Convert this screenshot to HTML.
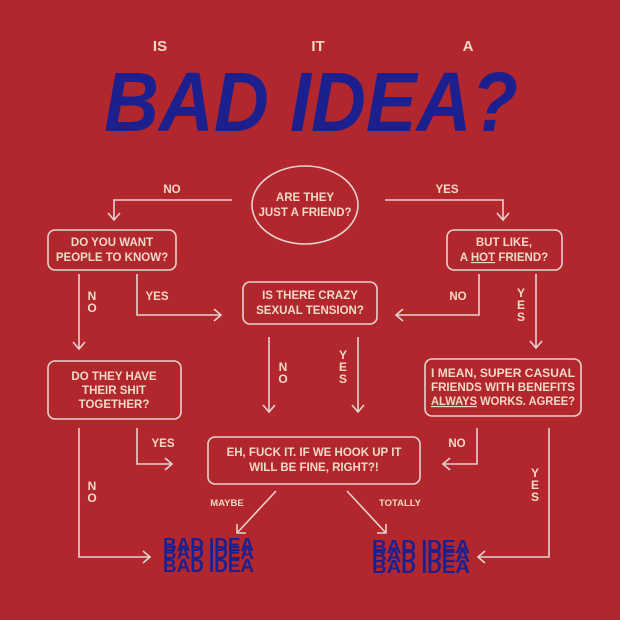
<!DOCTYPE html>
<html><head><meta charset="utf-8"><style>
html,body{margin:0;padding:0;background:#b1272d;}
svg{display:block}
text{font-family:"Liberation Sans",sans-serif;font-weight:bold;}
.u{text-decoration:underline;}
</style></head><body>
<svg width="620" height="620" viewBox="0 0 620 620" xmlns="http://www.w3.org/2000/svg">
<rect width="620" height="620" fill="#b1272d"/>
<g fill="#f2d9c6" font-size="15">
<text x="160" y="51" text-anchor="middle">IS</text>
<text x="318" y="51" text-anchor="middle">IT</text>
<text x="468" y="51" text-anchor="middle">A</text>
</g>
<text x="104" y="131" font-size="84" font-style="italic" fill="#1c1f8e" textLength="414" lengthAdjust="spacingAndGlyphs">BAD IDEA?</text>

<g fill="none" stroke="#e6d3cf" stroke-width="1.6">
<ellipse cx="305" cy="205" rx="53" ry="39"/>
<rect x="48" y="230" width="128" height="40" rx="7"/>
<rect x="447" y="230" width="115" height="40" rx="7"/>
<rect x="243" y="282" width="134" height="42" rx="7"/>
<rect x="48" y="361" width="133" height="58" rx="7"/>
<rect x="425" y="359" width="156" height="57" rx="7"/>
<rect x="208" y="437" width="212" height="47" rx="7"/>
<polyline points="232,200 114,200 114,220"/><polyline points="108,213 114,220 120,213"/>
<polyline points="385,200 503,200 503,220"/><polyline points="497,213 503,220 509,213"/>
<line x1="79" y1="274" x2="79" y2="349"/><polyline points="73,342 79,349 85,342"/>
<polyline points="137,274 137,315 221,315"/><polyline points="214,309 221,315 214,321"/>
<polyline points="479,274 479,315 396,315"/><polyline points="403,309 396,315 403,321"/>
<line x1="536" y1="274" x2="536" y2="348"/><polyline points="530,341 536,348 542,341"/>
<line x1="269" y1="337" x2="269" y2="412"/><polyline points="263,405 269,412 275,405"/>
<line x1="358" y1="337" x2="358" y2="412"/><polyline points="352,405 358,412 364,405"/>
<polyline points="137,428 137,464 172,464"/><polyline points="165,458 172,464 165,470"/>
<polyline points="477,428 477,464 443,464"/><polyline points="450,458 443,464 450,470"/>
<polyline points="79,428 79,557 150,557"/><polyline points="143,551 150,557 143,563"/>
<polyline points="549,428 549,557 478,557"/><polyline points="485,551 478,557 485,563"/>
<line x1="276" y1="491" x2="237" y2="533"/><polyline points="237,524 237,533 246,533"/>
<line x1="347" y1="491" x2="386" y2="533"/><polyline points="377,533 386,533 386,524"/>
</g>

<g fill="#f2d9c6" font-size="11.5" text-anchor="middle">
<text x="305" y="201">ARE THEY</text>
<text x="305" y="216">JUST A FRIEND?</text>
<text x="112" y="246">DO YOU WANT</text>
<text x="112" y="261">PEOPLE TO KNOW?</text>
<text x="504" y="246">BUT LIKE,</text>
<text x="504" y="261">A <tspan class="u">HOT</tspan> FRIEND?</text>
<text x="310" y="299">IS THERE CRAZY</text>
<text x="310" y="314">SEXUAL TENSION?</text>
<text x="114" y="380">DO THEY HAVE</text>
<text x="114" y="394">THEIR SHIT</text>
<text x="114" y="408">TOGETHER?</text>
<text x="503" y="377" textLength="144" lengthAdjust="spacingAndGlyphs">I MEAN, SUPER CASUAL</text>
<text x="503" y="391" textLength="144" lengthAdjust="spacingAndGlyphs">FRIENDS WITH BENEFITS</text>
<text x="503" y="405" textLength="144" lengthAdjust="spacingAndGlyphs"><tspan class="u">ALWAYS</tspan> WORKS. AGREE?</text>
<text x="314" y="456">EH, FUCK IT. IF WE HOOK UP IT</text>
<text x="314" y="471">WILL BE FINE, RIGHT?!</text>
<text x="172" y="193">NO</text>
<text x="447" y="193">YES</text>
<text x="157" y="300">YES</text>
<text x="458" y="300">NO</text>
<text x="163" y="447">YES</text>
<text x="457" y="447">NO</text>
</g>
<g fill="#f2d9c6" font-size="12" text-anchor="middle">
<text x="92" y="300">N</text><text x="92" y="312">O</text>
<text x="283" y="371">N</text><text x="283" y="383">O</text>
<text x="343" y="359">Y</text><text x="343" y="371">E</text><text x="343" y="383">S</text>
<text x="521" y="297">Y</text><text x="521" y="309">E</text><text x="521" y="321">S</text>
<text x="92" y="490">N</text><text x="92" y="502">O</text>
<text x="535" y="477">Y</text><text x="535" y="489">E</text><text x="535" y="501">S</text>
</g>
<g fill="#f2d9c6" font-size="9.5" text-anchor="middle">
<text x="227" y="506">MAYBE</text>
<text x="400" y="506">TOTALLY</text>
</g>
<g fill="#1c1f8e" font-size="18">
<text x="163" y="551" textLength="91" lengthAdjust="spacingAndGlyphs">BAD IDEA</text>
<text x="163" y="559" textLength="91" lengthAdjust="spacingAndGlyphs">BAD IDEA</text>
<text x="163" y="572" textLength="91" lengthAdjust="spacingAndGlyphs">BAD IDEA</text>
<text x="372" y="553" textLength="98" lengthAdjust="spacingAndGlyphs">BAD IDEA</text>
<text x="372" y="562" textLength="98" lengthAdjust="spacingAndGlyphs">BAD IDEA</text>
<text x="372" y="573" textLength="98" lengthAdjust="spacingAndGlyphs">BAD IDEA</text>
</g>
</svg>
</body></html>
